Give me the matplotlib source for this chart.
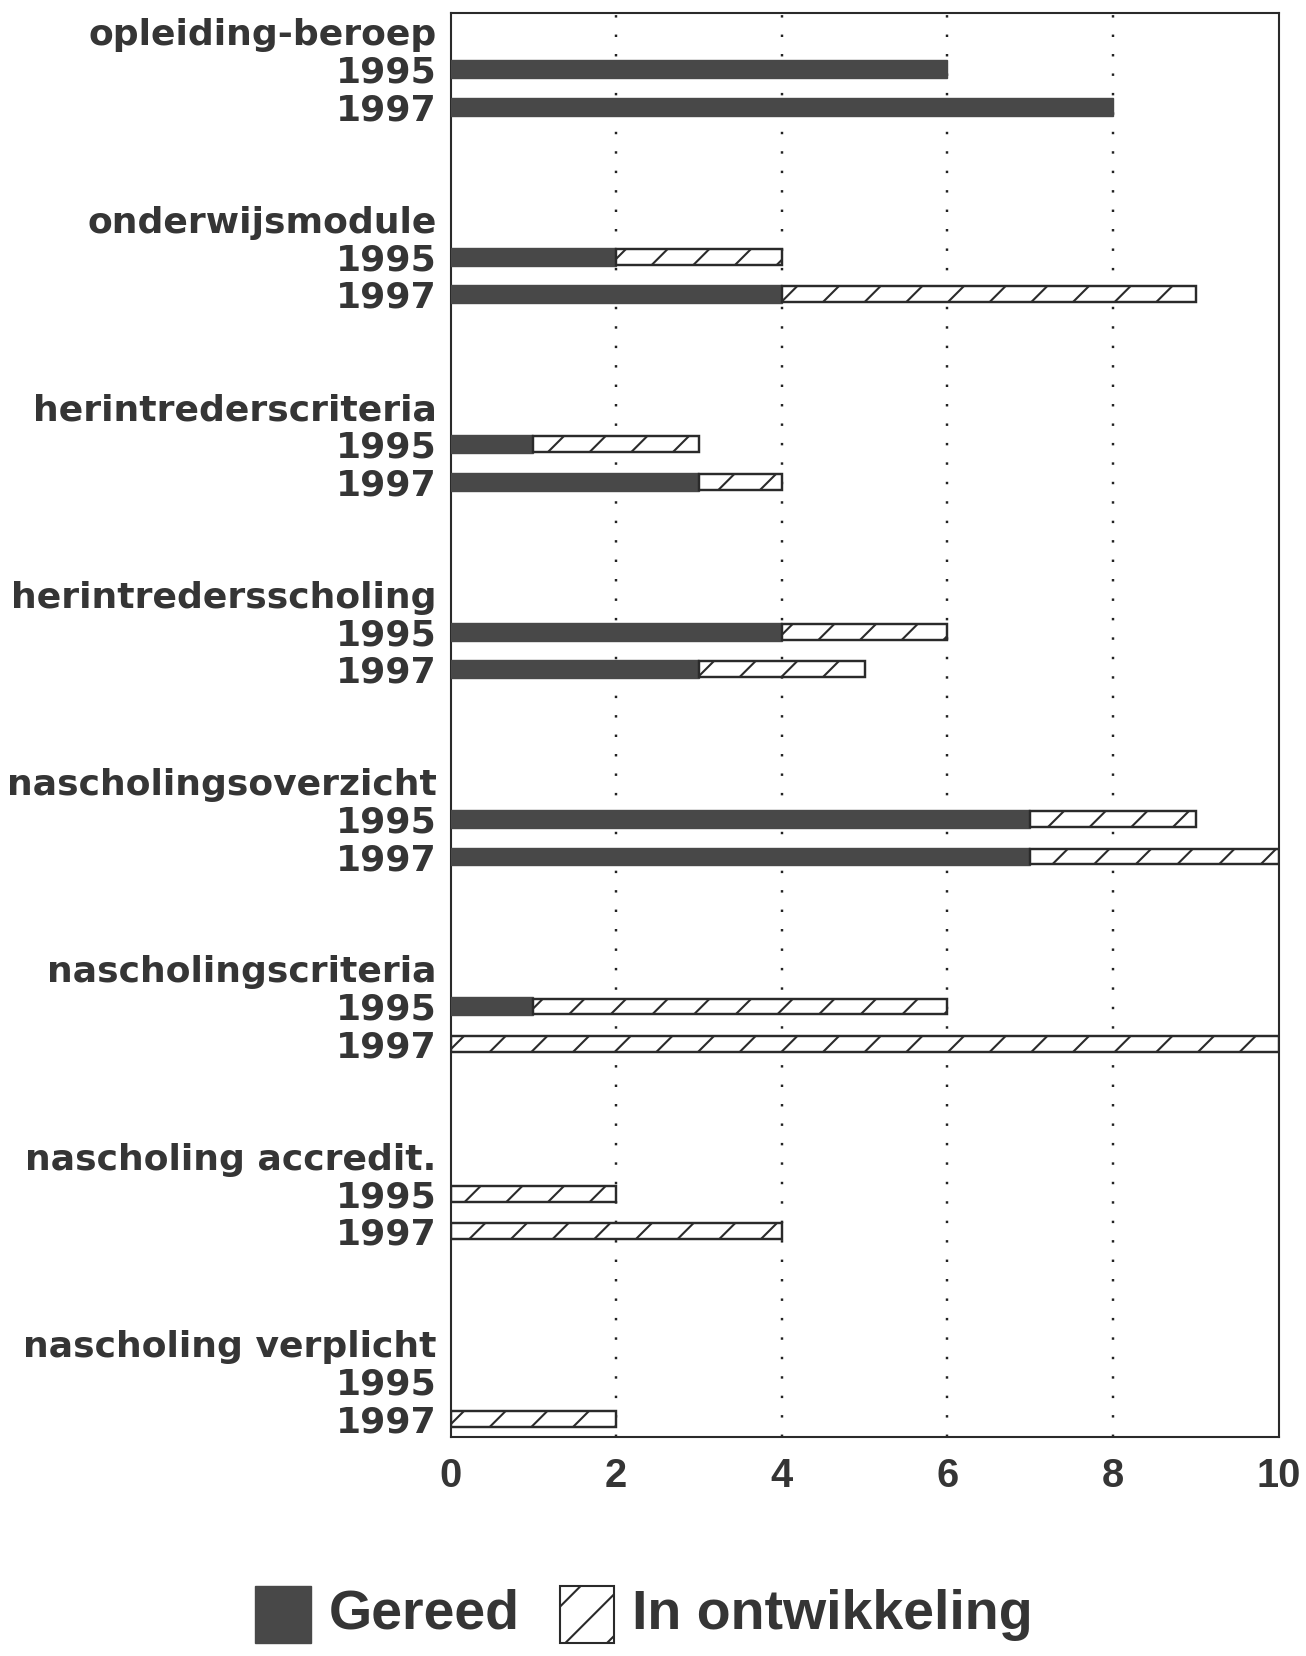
import matplotlib.pyplot as plt
from matplotlib.patches import Rectangle

# colours
bar_color = "#484848"
text_color = "#353535"

groups = ["opleiding-beroep", "onderwijsmodule", "herintrederscriteria",
          "herintredersscholing", "nascholingsoverzicht", "nascholingscriteria",
          "nascholing accredit.", "nascholing verplicht"]
years = ["1995", "1997"]

# values per group: (1995, 1997)
gereed = [(6, 8), (2, 4), (1, 3), (4, 3), (7, 7), (1, 0), (0, 0), (0, 0)]
in_ontwikkeling = [(0, 0), (2, 5), (2, 1), (2, 2), (2, 3), (5, 10), (2, 4), (0, 2)]

x_ticks = [0, 2, 4, 6, 8, 10]

DPI = 250
plt.rcParams["hatch.linewidth"] = 0.6
plt.rcParams["hatch.color"] = "#2a2a2a"

fig = plt.figure(figsize=(1306 / DPI, 1656 / DPI), dpi=DPI)
ax = fig.add_axes([0.345, 0.132, 0.634, 0.860])

# every group takes five rows: title, 1995, 1997 and two blank rows
tick_pos = []
tick_lab = []
for g, name in enumerate(groups):
    base = g * 5
    tick_pos.append(base)
    tick_lab.append(name)
    for k, yr in enumerate(years):
        y = base + 1 + k
        tick_pos.append(y)
        tick_lab.append(yr)
        done = gereed[g][k]
        dev = in_ontwikkeling[g][k]
        if done > 0:
            ax.barh(y, done, height=0.48, color=bar_color, edgecolor=bar_color,
                    linewidth=0.4, zorder=3)
        if dev > 0:
            ax.barh(y, dev, left=done, height=0.42, color="white", edgecolor="#2a2a2a",
                    linewidth=0.7, hatch="//", zorder=3)

ax.set_xlim(0, 10)
ax.set_ylim(37.5, -0.5)
ax.set_yticks(tick_pos)
ax.set_yticklabels(tick_lab)
ax.set_xticks(x_ticks)
ax.set_xticklabels([str(v) for v in x_ticks])

for v in x_ticks[1:-1]:
    ax.axvline(v, color="#222222", linewidth=0.7, linestyle=(0, (1, 7)), zorder=1)

ax.tick_params(axis="y", length=0, pad=4, labelsize=10.4, labelcolor=text_color)
ax.tick_params(axis="x", length=0, pad=5.5, labelsize=11.5, labelcolor=text_color)
for lab in ax.get_yticklabels():
    lab.set_fontweight("bold")
    lab.set_family("DejaVu Sans")
for lab in ax.get_xticklabels():
    lab.set_fontweight("bold")
    lab.set_family("Liberation Sans")

for sp in ax.spines.values():
    sp.set_linewidth(0.6)
    sp.set_color("#2a2a2a")

# legend drawn at the bottom of the page
fig.patches.append(Rectangle((0.195, 0.008), 0.043, 0.034, transform=fig.transFigure,
                             facecolor=bar_color, edgecolor=bar_color, linewidth=0.4))
fig.text(0.252, 0.025, "Gereed", fontsize=16, fontweight="bold", family="Liberation Sans",
         color=text_color, va="center", ha="left")
fig.patches.append(Rectangle((0.429, 0.008), 0.041, 0.034, transform=fig.transFigure,
                             facecolor="white", edgecolor="#2a2a2a", linewidth=0.6, hatch="//"))
fig.text(0.484, 0.025, "In ontwikkeling", fontsize=16, fontweight="bold",
         family="Liberation Sans", color=text_color, va="center", ha="left")

fig.savefig("out.png", dpi=DPI)
